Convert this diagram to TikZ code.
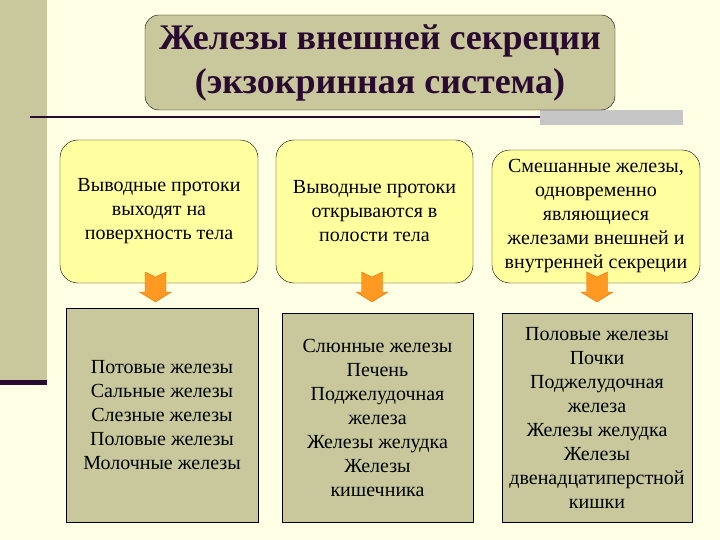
\documentclass[tikz,border=0pt]{standalone}
\usepackage{fontspec}
\setmainfont{Liberation Serif}
\begin{document}
\begin{tikzpicture}[x=1pt,y=-1pt,
  ybox/.style={draw=black,fill=yfill,rounded corners=18pt,align=center,font=\fontsize{20}{24}\selectfont},
  gbox/.style={draw=black,fill=gfill,align=center,font=\fontsize{20}{24}\selectfont},
  arr/.style={draw=arrdraw,fill=arrfill}]
\definecolor{bg}{HTML}{FFFFE6}
\definecolor{strip}{HTML}{C8C89C}
\definecolor{yfill}{HTML}{FFFFA0}
\definecolor{gfill}{HTML}{C8C89C}
\definecolor{arrfill}{HTML}{FF9922}
\definecolor{arrdraw}{HTML}{E07000}
\definecolor{titlec}{HTML}{2A0A30}
\useasboundingbox (0,0) rectangle (720,540);
\fill[bg] (0,0) rectangle (720,540);
\fill[strip] (0,0) rectangle (47,382);
\fill[titlec] (0,380) rectangle (47,385);
\fill[gray!45] (540,110) rectangle (683,125);
\draw[titlec,line width=2pt] (30,117) -- (540,117);
\node[draw=black,fill=gfill,rounded corners=14pt,minimum width=470,minimum height=95,align=center,
  font=\fontsize{36}{44}\selectfont\bfseries,text=titlec] (title) at (380,62.5)
  {Железы внешней секреции\\(экзокринная система)};
\node[ybox,minimum width=198,minimum height=143,inner sep=1pt] (t1) at (159,211.5) {Выводные протоки\\выходят на\\поверхность тела};
\node[ybox,minimum width=197,minimum height=143,inner sep=1pt] (t2) at (374.5,211.5) {Выводные протоки\\открываются в\\полости тела};
\node[ybox,minimum width=208,minimum height=133,inner sep=1pt] (t3) at (596,216.5) {Смешанные железы,\\одновременно\\являющиеся\\железами внешней и\\внутренней секреции};
\node[gbox,minimum width=192,minimum height=214,inner sep=1pt] (b1) at (162,415) {Потовые железы\\Сальные железы\\Слезные железы\\Половые железы\\Молочные железы};
\node[gbox,minimum width=191,minimum height=209,inner sep=1pt] (b2) at (377.5,417.5) {Слюнные железы\\Печень\\Поджелудочная\\железа\\Железы желудка\\Железы\\кишечника};
\node[gbox,minimum width=190,minimum height=209,inner sep=1pt] (b3) at (597,417.5) {Половые железы\\Почки\\Поджелудочная\\железа\\Железы желудка\\Железы\\двенадцатиперстной\\кишки};
\foreach \n/\cx in {a1/155.5, a2/372, a3/597}{
  \draw[arr] (\cx-10.5,272) -- (\cx,277) -- (\cx+10.5,272) -- (\cx+10.5,292) -- (\cx+16,292)
    -- (\cx,302) -- (\cx-16,292) -- (\cx-10.5,292) -- cycle;
  \coordinate (\n) at (\cx,302);
}
\end{tikzpicture}
\end{document}
